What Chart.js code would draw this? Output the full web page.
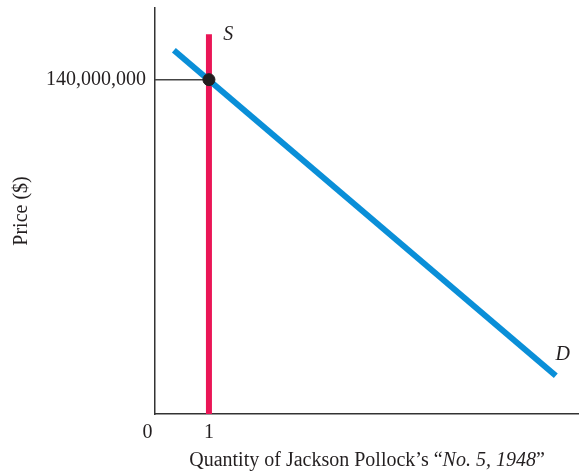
<!DOCTYPE html>
<html>
<head>
<meta charset="utf-8">
<script src="https://cdn.jsdelivr.net/npm/chart.js@4"></script>
<style>
  html, body { margin: 0; padding: 0; background: #fff; }
  #wrap { width: 579px; height: 475px; }
</style>
</head>
<body>
<div id="wrap"><canvas id="chart"></canvas></div>
<script>
// quantity of paintings (x) and price in millions of dollars (y)
const supplyX = [1, 1];
const supplyY = [0, 159];
const demandX = [0.35, 7.43];
const demandY = [152.3, 16];
const eqX = [1];
const eqY = [140];
const xTicks = [0, 1];
const yTicks = [140];
const curveLabels = ['S', 'D'];
const curveLabelX = [1.36, 7.56];
const curveLabelY = [159, 25];

const serif = '"Liberation Serif", "DejaVu Serif", serif';
const fontSize = 20;
const toPts = (xs, ys) => xs.map((x, i) => ({ x: x, y: ys[i] }));

// keep the plot box fixed, no extra padding from tick labels
const fixBox = (s, size) => {
    if (s.isHorizontal()) s.height = size; else s.width = size;
    s.paddingTop = 0;
    s.paddingBottom = 0;
    s.paddingLeft = 0;
    s.paddingRight = 0;
};

// S / D labels and the mixed-style x axis title
const extras = {
    id: 'extras',
    afterDraw(chart) {
        const { ctx, chartArea, scales: { x, y } } = chart;
        ctx.save();
        ctx.fillStyle = '#231f20';
        ctx.textAlign = 'center';
        ctx.textBaseline = 'middle';
        ctx.font = 'italic ' + fontSize + 'px ' + serif;
        curveLabels.forEach((t, i) => {
            ctx.fillText(t, x.getPixelForValue(curveLabelX[i]), y.getPixelForValue(curveLabelY[i]));
        });

        const parts = [
            ['Quantity of Jackson Pollock\u2019s \u201c', 'normal'],
            ['No. 5, 1948', 'italic'],
            ['\u201d', 'normal']
        ];
        let total = 0;
        parts.forEach(p => {
            ctx.font = p[1] + ' ' + fontSize + 'px ' + serif;
            total += ctx.measureText(p[0]).width;
        });
        let cx = (chartArea.left + chartArea.right) / 2 - total / 2;
        ctx.textAlign = 'left';
        parts.forEach(p => {
            ctx.font = p[1] + ' ' + fontSize + 'px ' + serif;
            ctx.fillText(p[0], cx, 461);
            cx += ctx.measureText(p[0]).width;
        });
        ctx.restore();
    }
};

new Chart(document.getElementById('chart'), {
    type: 'scatter',
    data: {
        // first dataset is painted on top
        datasets: [
            {
                label: 'Equilibrium',
                data: toPts(eqX, eqY),
                backgroundColor: '#231f20',
                borderColor: '#231f20',
                pointRadius: 6,
                pointHoverRadius: 6
            },
            {
                label: 'Demand',
                data: toPts(demandX, demandY),
                showLine: true,
                borderColor: '#0a8fd8',
                borderWidth: 6,
                borderCapStyle: 'butt',
                pointRadius: 0
            },
            {
                label: 'Supply',
                data: toPts(supplyX, supplyY),
                showLine: true,
                borderColor: '#ea1556',
                borderWidth: 6,
                borderCapStyle: 'butt',
                pointRadius: 0
            },
            {
                label: 'guide',
                data: toPts([0, eqX[0]], [eqY[0], eqY[0]]),
                showLine: true,
                borderColor: '#444',
                borderWidth: 1.5,
                pointRadius: 0
            }
        ]
    },
    options: {
        responsive: true,
        maintainAspectRatio: false,
        animation: false,
        events: [],
        layout: { autoPadding: false, padding: { top: 8, right: 0, left: 0, bottom: 0 } },
        plugins: { legend: { display: false }, tooltip: { enabled: false } },
        scales: {
            x: {
                type: 'linear',
                min: 0,
                max: 7.86,
                afterBuildTicks: s => { s.ticks = xTicks.map(v => ({ value: v })); },
                afterFit: s => fixBox(s, 61),
                grid: { display: false, drawTicks: false },
                border: { display: true, color: '#333', width: 1.5 },
                ticks: {
                    color: '#231f20',
                    font: { family: serif, size: fontSize },
                    padding: 7,
                    maxRotation: 0,
                    callback: v => (v === 0 ? '0   ' : String(v))
                }
            },
            y: {
                type: 'linear',
                min: 0,
                max: 170,
                afterBuildTicks: s => { s.ticks = yTicks.map(v => ({ value: v })); },
                afterFit: s => fixBox(s, 155),
                grid: { display: false, drawTicks: false },
                border: { display: true, color: '#333', width: 1.5 },
                ticks: {
                    color: '#231f20',
                    font: { family: serif, size: fontSize },
                    padding: 9,
                    callback: v => (v * 1e6).toLocaleString('en-US')
                },
                title: {
                    display: true,
                    text: 'Price ($)',
                    color: '#231f20',
                    font: { family: serif, size: fontSize },
                    padding: { top: 10, bottom: 0 }
                }
            }
        }
    },
    plugins: [extras]
});
</script>
</body>
</html>
